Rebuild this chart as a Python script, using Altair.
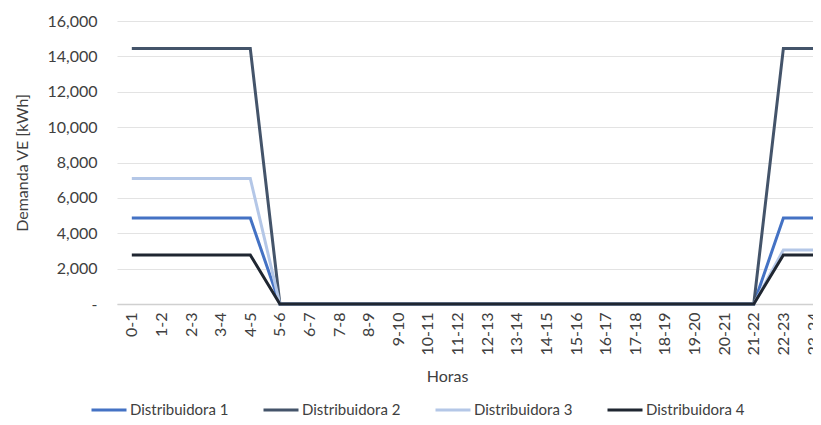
import altair as alt
import pandas as pd

hours = ["0-1", "1-2", "2-3", "3-4", "4-5", "5-6", "6-7", "7-8", "8-9", "9-10",
         "10-11", "11-12", "12-13", "13-14", "14-15", "15-16", "16-17", "17-18",
         "18-19", "19-20", "20-21", "21-22", "22-23", "23-24"]

series_names = ["Distribuidora 1", "Distribuidora 2", "Distribuidora 3", "Distribuidora 4"]
d1 = [4860, 4860, 4860, 4860, 4860, 0, 0, 0, 0, 0, 0, 0, 0, 0, 0, 0, 0, 0, 0, 0, 0, 0, 4860, 4860]
d2 = [14450, 14450, 14450, 14450, 14450, 0, 0, 0, 0, 0, 0, 0, 0, 0, 0, 0, 0, 0, 0, 0, 0, 0, 14450, 14450]
d3 = [7100, 7100, 7100, 7100, 7100, 0, 0, 0, 0, 0, 0, 0, 0, 0, 0, 0, 0, 0, 0, 0, 0, 0, 3050, 3050]
d4 = [2770, 2770, 2770, 2770, 2770, 0, 0, 0, 0, 0, 0, 0, 0, 0, 0, 0, 0, 0, 0, 0, 0, 0, 2770, 2770]
colors = ["#4472C4", "#44546A", "#B4C7E7", "#1F2631"]

rows = []
for si, (name, vals) in enumerate(zip(series_names, [d1, d2, d3, d4])):
    for i, (h, v) in enumerate(zip(hours, vals)):
        rows.append({"idx": i, "hora": h, "serie": name, "valor": v, "ord": si})
df = pd.DataFrame(rows)

label_arr = "[" + ",".join("'" + h + "'" for h in hours) + "]"
font = "Lato"
gray = "#404040"

chart = alt.Chart(df).mark_line(strokeWidth=3).encode(
    x=alt.X("idx:Q",
            scale=alt.Scale(domain=[-0.5, 23], nice=False, zero=False),
            axis=alt.Axis(title="Horas", values=list(range(24)),
                          labelExpr=label_arr + "[datum.value]",
                          labelAngle=270, labelAlign="right", labelBaseline="middle",
                          labelPadding=8, ticks=False, grid=False,
                          domainColor="#d0d0d0", domainWidth=1.5,
                          labelFont=font, labelFontSize=16, labelColor=gray,
                          titleFont=font, titleFontSize=16, titleColor=gray,
                          titleFontWeight="normal", titleX=330, titleY=64,
                          labelOverlap=False, labelFlush=False)),
    y=alt.Y("valor:Q",
            scale=alt.Scale(domain=[0, 16000], nice=False),
            axis=alt.Axis(title="Demanda VE [kWh]",
                          values=[0, 2000, 4000, 6000, 8000, 10000, 12000, 14000, 16000],
                          labelExpr="datum.value == 0 ? '-' : format(datum.value, ',')",
                          ticks=False, domain=False, gridColor="#e3e3e3",
                          labelPadding=20, titlePadding=16,
                          labelFont=font, labelFontSize=16, labelColor=gray,
                          titleFont=font, titleFontSize=16, titleColor=gray,
                          titleFontWeight="normal")),
    color=alt.Color("serie:N",
                    scale=alt.Scale(domain=series_names, range=colors),
                    legend=alt.Legend(title=None, orient="none", direction="horizontal",
                                      legendX=-27, legendY=370,
                                      symbolType="stroke", symbolSize=1225,
                                      symbolStrokeWidth=3, labelOffset=2,
                                      columnPadding=28,
                                      labelFont=font, labelFontSize=15, labelColor=gray)),
    order=alt.Order("ord:Q"),
).properties(
    width=696, height=283,
    autosize=alt.AutoSizeParams(type="none"),
    padding={"left": 109, "top": 13, "right": 0, "bottom": 113},
).configure_view(stroke=None)

chart.save("out.html", embed_options={"renderer": "svg", "actions": False})
